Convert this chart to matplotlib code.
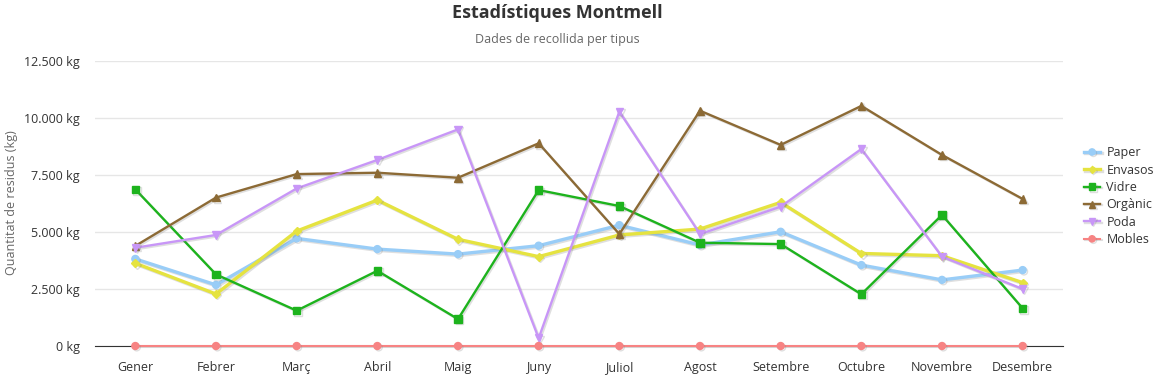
import matplotlib.pyplot as plt
import matplotlib.patheffects as pe
from matplotlib.ticker import FuncFormatter

plt.rcParams['font.family'] = ['Open Sans', 'DejaVu Sans']

mesos = ["Gener", "Febrer", "Març", "Abril", "Maig", "Juny", "Juliol",
         "Agost", "Setembre", "Octubre", "Novembre", "Desembre"]

paper = [3820, 2680, 4720, 4250, 4030, 4400, 5300, 4430, 5010, 3550, 2900, 3330]
envasos = [3630, 2280, 5040, 6400, 4680, 3920, 4870, 5130, 6300, 4060, 3960, 2780]
vidre = [6870, 3140, 1550, 3300, 1180, 6840, 6140, 4530, 4470, 2270, 5750, 1650]
organic = [4390, 6510, 7540, 7600, 7380, 8890, 4910, 10320, 8820, 10530, 8380, 6450]
poda = [4310, 4870, 6910, 8160, 9500, 340, 10280, 4910, 6110, 8640, 3920, 2500]
mobles = [0, 0, 0, 0, 0, 0, 0, 0, 0, 0, 0, 0]

series = [
    ("Paper", paper, "#99cdf7", "o", 2.4, 5),
    ("Envasos", envasos, "#e5e340", "D", 2.4, 4),
    ("Vidre", vidre, "#1db31d", "s", 1.7, 5.5),
    ("Orgànic", organic, "#8c6a35", "^", 1.7, 5.5),
    ("Poda", poda, "#c896f7", "v", 1.7, 5.5),
    ("Mobles", mobles, "#f78383", "o", 1.5, 5),
]

fig = plt.figure(figsize=(11.59, 3.79), dpi=100)
ax = fig.add_axes([95/1159, 33/379, 968/1159, 285/379])

x = range(len(mesos))
shadow = [pe.SimpleLineShadow(offset=(1, -1), shadow_color="gray", alpha=0.25), pe.Normal()]
for nom, vals, col, mk, lw, ms in series:
    ax.plot(x, vals, color=col, marker=mk, lw=lw, ms=ms, label=nom,
            path_effects=shadow, clip_on=False, zorder=3)

ax.set_xlim(-0.5, 11.5)
ax.set_ylim(0, 12500)
ax.set_yticks(range(0, 12501, 2500))
ax.yaxis.set_major_formatter(FuncFormatter(lambda v, p: f"{int(v):,} kg".replace(",", ".")))
ax.set_xticks(list(x))
ax.set_xticklabels(mesos)
ax.grid(axis="y", color="#e6e6e6", lw=1)
ax.set_axisbelow(True)
for s in ["top", "right", "left"]:
    ax.spines[s].set_visible(False)
ax.spines["bottom"].set_color("#333333")
ax.tick_params(axis="both", length=0, labelsize=9, colors="#333333")
ax.tick_params(axis="x", pad=11)
ax.tick_params(axis="y", pad=11)

fig.text(12/1159, 1 - 203/379, "Quantitat de residus (kg)", rotation=90, ha="center",
         va="center", color="#666666", fontsize=9)
fig.text(557/1159, 1 - 13/379, "Estadístiques Montmell", ha="center", va="center",
         fontsize=13, fontweight="bold", color="#333333")
fig.text(557/1159, 1 - 39/379, "Dades de recollida per tipus", ha="center", va="center",
         fontsize=9, color="#666666")

leg = ax.legend(loc="upper left", bbox_to_anchor=(1.01, 0.74), frameon=False,
                fontsize=9, handlelength=1.3, handletextpad=0.5, labelspacing=0.35,
                markerscale=0.9)
for t in leg.get_texts():
    t.set_color("#333333")

fig.savefig("out.png", dpi=100)
